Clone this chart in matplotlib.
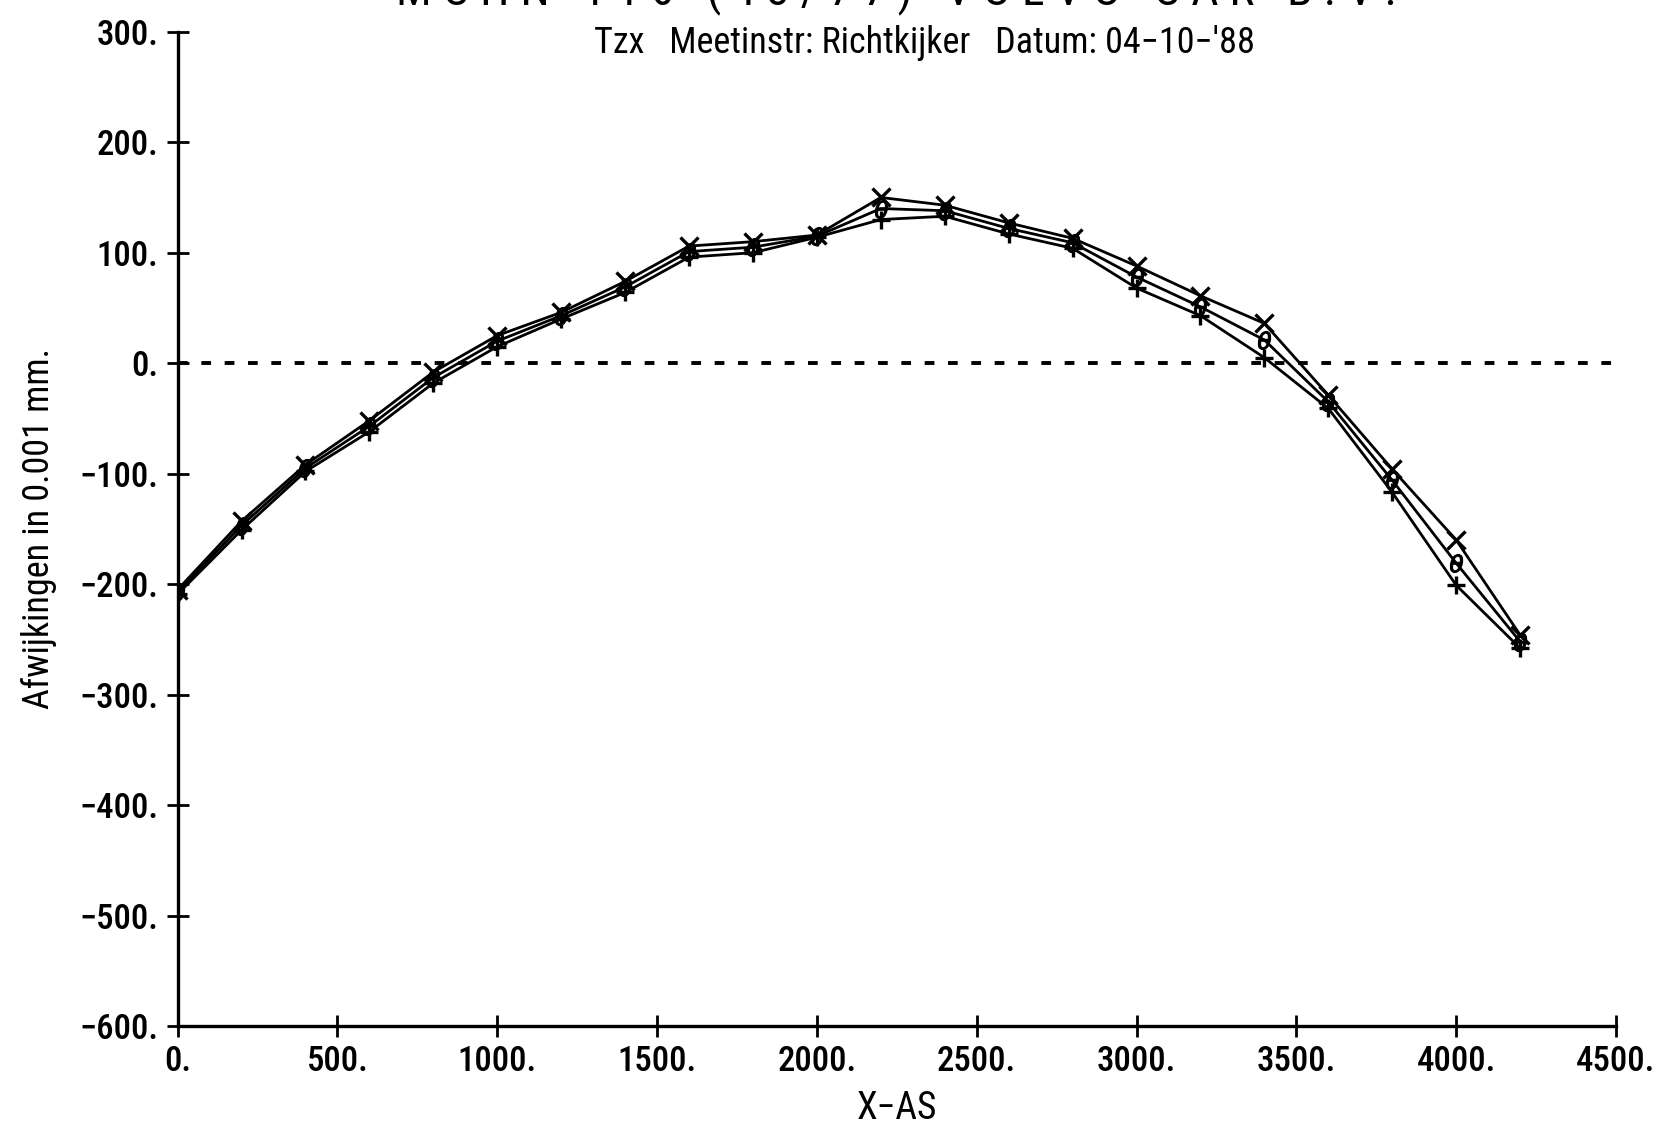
import matplotlib
matplotlib.use("Agg")
import matplotlib.pyplot as plt
from matplotlib import font_manager

x_pos = [0, 200, 400, 600, 800, 1000, 1200, 1400, 1600, 1800, 2000,
         2200, 2400, 2600, 2800, 3000, 3200, 3400, 3600, 3800, 4000, 4200]
serie_x = [-205, -143, -92, -52, -8, 25, 46, 74, 106, 110, 116,
           150, 143, 127, 113, 88, 61, 36, -29, -96, -160, -246]
serie_o = [-207, -147, -95, -57, -13, 20, 43, 69, 101, 105, 115,
           140, 138, 122, 109, 78, 51, 21, -35, -106, -181, -252]
serie_p = [-209, -151, -98, -62, -18, 15, 40, 64, 96, 100, 114,
           130, 133, 117, 104, 68, 43, 5, -41, -117, -201, -258]

x_ticks = [0, 500, 1000, 1500, 2000, 2500, 3000, 3500, 4000, 4500]
y_ticks = [-600, -500, -400, -300, -200, -100, 0, 100, 200, 300]

names = {f.name for f in font_manager.fontManager.ttflist}
chosen = 'DejaVu Sans'
for cand in ['Liberation Sans Narrow', 'Roboto Condensed', 'Open Sans Condensed', 'Arial Narrow']:
    if cand in names:
        chosen = cand
        break
plt.rcParams['font.family'] = [chosen, 'DejaVu Sans']

fig = plt.figure(figsize=(16.6, 11.34), dpi=100)
ax = fig.add_axes([0.107, 0.0952, 0.8665, 0.8768])

lw = 2.0
ax.plot(x_pos, serie_x, color='black', lw=lw, marker='x', ms=13, mew=2.4)
ax.plot(x_pos, serie_o, color='black', lw=lw, marker='$\\theta$', ms=13, mew=0.8)
ax.plot(x_pos, serie_p, color='black', lw=lw, marker='+', ms=13, mew=2.4)
ax.plot([0, 4500], [0, 0], color='black', lw=2.8, ls=(0, (2.5, 3.5)))

ax.set_xlim(0, 4500)
ax.set_ylim(-600, 300)
ax.set_xticks(x_ticks)
ax.set_yticks(y_ticks)
ax.set_xticklabels([f"{v}." for v in x_ticks])
ax.set_yticklabels([f"{v}.".replace('-', '\u2212') for v in y_ticks])
for s in ['top', 'right']:
    ax.spines[s].set_visible(False)
for s in ['left', 'bottom']:
    ax.spines[s].set_linewidth(2.4)
ax.tick_params(direction='inout', length=16, width=2, labelsize=25, pad=6)
for lab in ax.get_xticklabels() + ax.get_yticklabels():
    lab.set_fontweight('medium')

ax.set_xlabel('X\u2212AS', fontsize=27, labelpad=8)
ax.set_ylabel('Afwijkingen in 0.001 mm.', fontsize=26, labelpad=16)

fig.text(0.54, 1.008, 'M C H N   1 1 6   ( 4 3 / 7 7 )   V O L V O   C A R   B . V .',
         ha='center', va='center', fontsize=34)
fig.text(0.557, 0.962, "Tzx   Meetinstr: Richtkijker   Datum: 04\u221210\u2212'88", ha='center', va='center',
         fontsize=26)

fig.savefig('out.png', dpi=100)
